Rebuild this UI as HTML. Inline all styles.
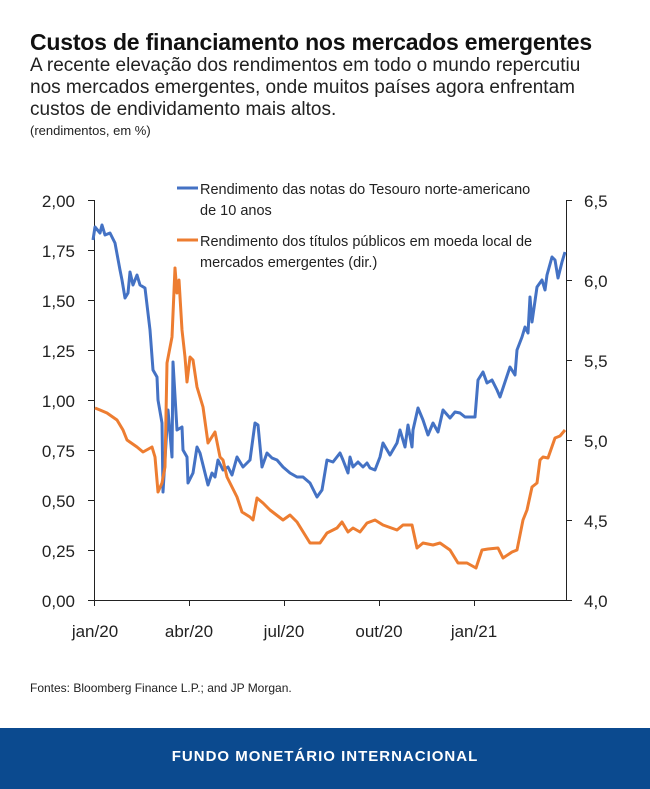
<!DOCTYPE html>
<html><head><meta charset="utf-8"><style>
body{margin:0;width:650px;height:789px;background:#fff;font-family:"Liberation Sans",Arial,sans-serif;position:relative;overflow:hidden}
.t{position:absolute;left:30px;top:29px;font-size:23px;font-weight:bold;color:#111;letter-spacing:-0.2px;white-space:nowrap}
.s{position:absolute;left:30px;top:55px;font-size:19px;line-height:22px;color:#222;width:600px}
.u{position:absolute;left:30px;top:123px;font-size:13px;color:#222}
.f{position:absolute;left:30px;top:681px;font-size:12px;color:#222}
.bar{position:absolute;left:0;top:728px;width:650px;height:61px;background:#0b4a8f;color:#fff;font-weight:bold;font-size:15px;letter-spacing:1px;text-align:center;line-height:58px}
</style></head><body>
<div class="t">Custos de financiamento nos mercados emergentes</div>
<div class="s">A recente elevação dos rendimentos em todo o mundo repercutiu<br>nos mercados emergentes, onde muitos países agora enfrentam<br>custos de endividamento mais altos.</div>
<div class="u">(rendimentos, em %)</div>
<svg width="650" height="789" style="position:absolute;left:0;top:0" font-family="Liberation Sans, Arial, sans-serif">
<g stroke="#222" stroke-width="1" fill="none">
<path d="M94.5 200V600.5H566.5V200"/>
<path d="M88 200.5h6M88 250.5h6M88 300.5h6M88 350.5h6M88 400.5h6M88 450.5h6M88 500.5h6M88 550.5h6M88 600.5h6"/>
<path d="M566 200.5h6M566 280.5h6M566 360.5h6M566 440.5h6M566 520.5h6M566 600.5h6"/>
<path d="M94.5 600v6M189.5 600v6M284.5 600v6M379.5 600v6M474.5 600v6"/>
</g>
<g font-size="17" fill="#222" text-anchor="end">
<text x="75" y="207">2,00</text><text x="75" y="257">1,75</text><text x="75" y="307">1,50</text><text x="75" y="357">1,25</text><text x="75" y="407">1,00</text><text x="75" y="457">0,75</text><text x="75" y="507">0,50</text><text x="75" y="557">0,25</text><text x="75" y="607">0,00</text>
</g>
<g font-size="17" fill="#222">
<text x="584" y="207">6,5</text><text x="584" y="287">6,0</text><text x="584" y="367">5,5</text><text x="584" y="447">5,0</text><text x="584" y="527">4,5</text><text x="584" y="607">4,0</text>
</g>
<g font-size="17" fill="#222" text-anchor="middle">
<text x="95" y="637">jan/20</text><text x="189" y="637">abr/20</text><text x="284" y="637">jul/20</text><text x="379" y="637">out/20</text><text x="474" y="637">jan/21</text>
</g>
<g stroke-width="3" fill="none" stroke-linejoin="round">
<polyline stroke="#4472c4" points="93,240 95,227 100,233 102,225 105,235 110,233 115,243 120,270 122,280 125,298 128,293 130,272 133,285 137,275 140,285 145,288 150,330 153,370 157,377 158,400 162,423 163,492 168,410 172,457 173,362 177,430 182,427 183,450 187,457 188,483 193,473 197,447 200,453 205,473 208,485 212,473 215,477 218,460 223,470 228,467 232,475 237,457 243,467 250,460 255,423 258,425 262,467 267,453 272,458 277,460 283,467 290,473 297,477 303,477 310,483 317,497 322,490 327,460 333,462 340,453 343,460 348,473 350,457 353,467 358,462 363,467 367,463 370,468 375,470 380,457 383,443 390,455 397,443 400,430 405,447 408,425 412,447 413,430 418,408 423,420 428,435 433,423 438,432 443,410 450,418 455,412 460,413 465,417 475,417 478,380 483,372 487,383 492,380 497,390 500,397 505,382 510,367 515,375 517,350 522,337 525,327 528,333 530,297 532,322 537,287 542,280 545,290 547,275 552,257 555,260 558,278 562,262 565,252"/>
<polyline stroke="#ed7d31" points="95,408 100,410 107,413 117,420 123,430 127,440 137,447 143,452 152,447 155,457 158,492 162,483 165,467 167,363 172,337 175,268 177,293 179,280 182,330 185,357 187,382 190,357 193,360 197,387 203,407 208,443 215,432 220,457 223,460 227,477 237,497 242,512 250,517 253,520 257,498 263,503 270,510 283,520 290,515 297,522 310,543 320,543 327,533 337,528 342,522 348,532 353,528 360,532 367,523 375,520 383,525 397,530 403,525 412,525 417,548 423,543 433,545 440,543 450,550 458,563 467,563 476,568 482,550 488,549 498,548 503,558 512,552 517,550 523,520 527,510 532,487 537,483 540,460 543,457 548,458 555,438 560,436 565,430"/>
<path stroke="#4472c4" d="M177 188h21"/><path stroke="#ed7d31" d="M177 240h21"/>
</g>
<g font-size="14.5" fill="#222">
<text x="200" y="194">Rendimento das notas do Tesouro norte-americano</text>
<text x="200" y="215">de 10 anos</text>
<text x="200" y="246">Rendimento dos títulos públicos em moeda local de</text>
<text x="200" y="267">mercados emergentes (dir.)</text>
</g>
</svg>
<div class="f">Fontes: Bloomberg Finance L.P.; and JP Morgan.</div>
<div class="bar">FUNDO MONETÁRIO INTERNACIONAL</div>
</body></html>
